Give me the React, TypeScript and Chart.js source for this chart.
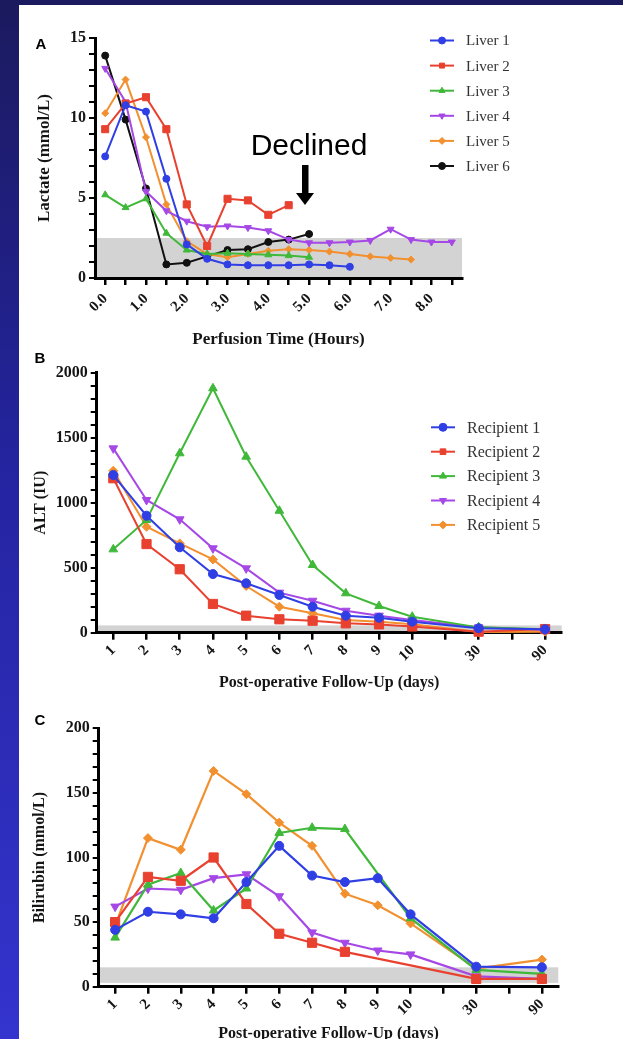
import React, { useEffect, useRef } from 'react';
import { Chart, registerables } from 'chart.js';
import { drawPoint } from 'chart.js/helpers';

Chart.register(...registerables);

// ---------- DATA ----------
const perfusionHours = ['0.0', '0.5', '1.0', '1.5', '2.0', '2.5', '3.0', '3.5', '4.0', '4.5', '5.0', '5.5', '6.0', '6.5', '7.0', '7.5', '8.0', '8.5'];
const liver1 = [7.6, 10.8, 10.4, 6.2, 2.1, 1.2, 0.85, 0.8, 0.8, 0.8, 0.85, 0.8, 0.7];
const liver2 = [9.3, 10.9, 11.3, 9.3, 4.6, 2.0, 4.95, 4.85, 3.95, 4.55];
const liver3 = [5.2, 4.4, 4.95, 2.8, 1.75, 1.5, 1.55, 1.5, 1.45, 1.4, 1.3];
const liver4 = [13.1, 11.0, 5.4, 4.2, 3.55, 3.2, 3.25, 3.15, 2.95, 2.4, 2.2, 2.2, 2.25, 2.35, 3.05, 2.4, 2.25, 2.25];
const liver5 = [10.3, 12.4, 8.8, 4.6, 2.3, 1.5, 1.3, 1.5, 1.7, 1.8, 1.75, 1.65, 1.5, 1.35, 1.25, 1.15];
const liver6 = [13.9, 9.9, 5.6, 0.85, 0.95, 1.35, 1.75, 1.8, 2.25, 2.4, 2.75];
const lactateNormal = [0, 2.5];

const followUpDays = ['1', '2', '3', '4', '5', '6', '7', '8', '9', '10', '', '30', '', '90'];
const alt1 = [1213, 900, 657, 451, 380, 290, 200, 131, 115, 85, null, 34, null, 26];
const alt2 = [1188, 682, 488, 221, 131, 103, 92, 72, 64, 48, null, 8, null, 28];
const alt3 = [641, 867, 1380, 1880, 1354, 938, 521, 303, 205, 123, null, 41, null, 26];
const alt4 = [1418, 1021, 872, 649, 495, 308, 246, 169, 131, 98, null, 41, null, 21];
const alt5 = [1246, 815, 687, 564, 359, 200, 149, 98, 85, 65, null, 5, null, 8];
const altNormal = [0, 56];

const bili1 = [44, 58, 56, 53, 81, 109, 86, 81, 84, 56, null, 15.5, null, 15];
const bili2 = [50, 85, 82, 100, 64, 41, 34, 27, null, null, null, 6, null, 6];
const bili3 = [38, 79, 88, 59, 76, 119, 123, 122, null, 53, null, 13, null, 10];
const bili4 = [62, 76, 75, 84, 87, 70, 42, 34, 28, 25, null, 8, null, 6];
const bili5 = [47, 115, 106, 167, 149, 127, 109, 72, 63, 49, null, 14, null, 21];
const biliNormal = [3, 15];

const lactateTicks = Array.from({ length: 16 }, (_, i) => i);
const altTicks = Array.from({ length: 21 }, (_, i) => i * 100);
const biliTicks = Array.from({ length: 21 }, (_, i) => i * 10);

// ---------- STYLE ----------
const BLUE = '#2f3fe4';
const RED = '#e8412f';
const GREEN = '#40b83a';
const PURPLE = '#a548e6';
const ORANGE = '#f29030';
const BLACK = '#111111';
const SERIF = "'Liberation Serif', 'Times New Roman', serif";
const SANS = "'Liberation Sans', Arial, sans-serif";
const INK = '#151515';

type Mk = { style: string; rot: number; r: number };

function ds(label: string, data: (number | null)[], color: string, mk: Mk, lw: number) {
  return {
    label,
    data,
    borderColor: color,
    backgroundColor: color,
    pointBackgroundColor: color,
    pointBorderColor: color,
    pointStyle: mk.style,
    pointRotation: mk.rot,
    pointRadius: mk.r,
    pointBorderWidth: 1,
    borderWidth: lw,
    tension: 0,
    spanGaps: true,
    clip: false as any,
  };
}

const bandPlugin = {
  id: 'band',
  beforeDraw(chart: any, _a: any, opts: any) {
    const { ctx, chartArea, scales } = chart;
    const y = scales.y;
    const t = y.getPixelForValue(opts.range[1]);
    const b = y.getPixelForValue(opts.range[0]);
    ctx.save();
    ctx.fillStyle = '#d3d3d3';
    ctx.fillRect(chartArea.left, t, chartArea.right - chartArea.left, b - t);
    ctx.restore();
  },
};

const legendPlugin = {
  id: 'customLegend',
  afterDraw(chart: any, _a: any, opts: any) {
    if (!opts || !opts.display) return;
    const ctx = chart.ctx;
    ctx.save();
    chart.data.datasets.forEach((d: any, i: number) => {
      const y = opts.y0 + i * opts.dy;
      ctx.strokeStyle = d.borderColor;
      ctx.lineWidth = 2;
      ctx.beginPath();
      ctx.moveTo(opts.x0, y);
      ctx.lineTo(opts.x1, y);
      ctx.stroke();
      ctx.fillStyle = d.pointBackgroundColor;
      ctx.strokeStyle = d.pointBorderColor;
      ctx.lineWidth = 1;
      drawPoint(ctx, { pointStyle: d.pointStyle, rotation: d.pointRotation || 0, radius: opts.r, borderWidth: 1 } as any, (opts.x0 + opts.x1) / 2, y);
      ctx.fillStyle = '#333333';
      ctx.font = opts.font;
      ctx.textBaseline = 'middle';
      ctx.textAlign = 'left';
      ctx.fillText(d.label, opts.tx, y + 1);
    });
    ctx.restore();
  },
};

const notesPlugin = {
  id: 'notes',
  afterDraw(chart: any, _a: any, opts: any) {
    const ctx = chart.ctx;
    ctx.save();
    ctx.fillStyle = '#000';
    ctx.textBaseline = 'middle';
    ctx.textAlign = 'center';
    ctx.font = `bold 15px ${SANS}`;
    ctx.fillText(opts.letter, opts.lx, opts.ly);
    if (opts.declined) {
      ctx.font = `30px ${SANS}`;
      ctx.textBaseline = 'alphabetic';
      ctx.fillText('Declined', 309, 155);
      // arrow
      ctx.fillRect(302, 165, 6.5, 29);
      ctx.beginPath();
      ctx.moveTo(296, 193);
      ctx.lineTo(314, 193);
      ctx.lineTo(305, 205);
      ctx.closePath();
      ctx.fill();
    }
    ctx.restore();
  },
};

function makeConfig(p: {
  labels: string[];
  datasets: any[];
  xLabel: (i: number) => string;
  xTitle: string;
  yTitle: string;
  yTicks: number[];
  yMajor: number;
  yMax: number;
  band: number[];
  padTop: number;
  padRight: number;
  yWidth: number;
  xHeight: number;
  titleSize: number;
  yTitlePad: number;
  xTitlePad: number;
  xTickPad: number;
  legend: any;
  notes: any;
}) {
  return {
    type: 'line',
    data: { labels: p.labels, datasets: p.datasets },
    options: {
      animation: false,
      responsive: false,
      devicePixelRatio: 1,
      events: [],
      layout: { padding: { left: 0, right: p.padRight, top: p.padTop, bottom: 0 } },
      plugins: {
        legend: { display: false },
        tooltip: { enabled: false },
        band: { range: p.band },
        customLegend: p.legend,
        notes: p.notes,
      },
      scales: {
        x: {
          type: 'category',
          offset: true,
          grid: { offset: false, drawOnChartArea: false, drawTicks: true, tickLength: 7, lineWidth: 2.5, color: '#000' },
          border: { display: true, width: 3, color: '#000' },
          ticks: {
            autoSkip: false,
            maxRotation: 45,
            minRotation: 45,
            padding: p.xTickPad,
            color: INK,
            font: { family: SERIF, size: 15, weight: 'bold' },
            callback: (_v: any, i: number) => p.xLabel(i),
          },
          title: {
            display: true,
            text: p.xTitle,
            color: INK,
            font: { family: SERIF, size: p.titleSize, weight: 'bold' },
            padding: { top: 0, bottom: p.xTitlePad },
          },
          afterFit: (s: any) => {
            s.height = p.xHeight;
          },
        },
        y: {
          type: 'linear',
          min: 0,
          max: p.yMax,
          afterBuildTicks: (s: any) => {
            s.ticks = p.yTicks.map((v) => ({ value: v }));
          },
          grid: { drawOnChartArea: false, drawTicks: true, tickLength: 6, lineWidth: 2, color: '#000' },
          border: { display: true, width: 3, color: '#000' },
          ticks: {
            autoSkip: false,
            padding: 3,
            color: INK,
            font: { family: SERIF, size: 16, weight: 'bold' },
            callback: (v: any) => (Number(v) % p.yMajor === 0 ? String(v) : ''),
          },
          title: {
            display: true,
            text: p.yTitle,
            color: INK,
            font: { family: SERIF, size: p.titleSize, weight: 'bold' },
            padding: { top: p.yTitlePad, bottom: 0 },
          },
          afterFit: (s: any) => {
            s.width = p.yWidth;
          },
        },
      },
    },
    plugins: [bandPlugin, legendPlugin, notesPlugin],
  } as any;
}

const mkA = {
  l1: { style: 'circle', rot: 0, r: 3.5 },
  l2: { style: 'rect', rot: 0, r: 5 },
  l3: { style: 'triangle', rot: 0, r: 4 },
  l4: { style: 'triangle', rot: 180, r: 4 },
  l5: { style: 'rectRot', rot: 0, r: 3.5 },
  l6: { style: 'circle', rot: 0, r: 3.5 },
};
const mkB = {
  r1: { style: 'circle', rot: 0, r: 4.5 },
  r2: { style: 'rect', rot: 0, r: 6.5 },
  r3: { style: 'triangle', rot: 0, r: 5 },
  r4: { style: 'triangle', rot: 180, r: 5 },
  r5: { style: 'rectRot', rot: 0, r: 4.5 },
};

function configA() {
  return makeConfig({
    labels: perfusionHours,
    datasets: [
      ds('Liver 1', liver1, BLUE, mkA.l1, 2),
      ds('Liver 2', liver2, RED, mkA.l2, 2),
      ds('Liver 3', liver3, GREEN, mkA.l3, 2),
      ds('Liver 4', liver4, PURPLE, mkA.l4, 2),
      ds('Liver 5', liver5, ORANGE, mkA.l5, 2),
      ds('Liver 6', liver6, BLACK, mkA.l6, 2),
    ],
    xLabel: (i) => (i % 2 === 0 ? perfusionHours[i] : ''),
    xTitle: 'Perfusion Time (Hours)',
    yTitle: 'Lactate (mmol/L)',
    yTicks: lactateTicks,
    yMajor: 5,
    yMax: 15,
    band: lactateNormal,
    padTop: 38,
    padRight: 161,
    yWidth: 95,
    xHeight: 72,
    titleSize: 17,
    yTitlePad: 34.8,
    xTitlePad: 0,
    xTickPad: 5,
    legend: { display: true, x0: 430, x1: 454, tx: 466, y0: 40.5, dy: 25.1, r: 3.5, font: `15px ${SERIF}` },
    notes: { letter: 'A', lx: 41, ly: 45, declined: true },
  });
}

function configB() {
  return makeConfig({
    labels: followUpDays,
    datasets: [
      ds('Recipient 1', alt1, BLUE, mkB.r1, 2),
      ds('Recipient 2', alt2, RED, mkB.r2, 2),
      ds('Recipient 3', alt3, GREEN, mkB.r3, 2),
      ds('Recipient 4', alt4, PURPLE, mkB.r4, 2),
      ds('Recipient 5', alt5, ORANGE, mkB.r5, 2),
    ],
    xLabel: (i) => followUpDays[i],
    xTitle: 'Post-operative Follow-Up (days)',
    yTitle: 'ALT (IU)',
    yTicks: altTicks,
    yMajor: 500,
    yMax: 2000,
    band: altNormal,
    padTop: 22.7,
    padRight: 61.3,
    yWidth: 96.7,
    xHeight: 67.3,
    titleSize: 16,
    yTitlePad: 31.4,
    xTitlePad: 7.4,
    xTickPad: 2,
    legend: { display: true, x0: 431, x1: 455, tx: 467, y0: 77.3, dy: 24.4, r: 4, font: `16px ${SERIF}` },
    notes: { letter: 'B', lx: 40, ly: 9, declined: false },
  });
}

function configC() {
  return makeConfig({
    labels: followUpDays,
    datasets: [
      ds('Recipient 1', bili1, BLUE, mkB.r1, 2.2),
      ds('Recipient 2', bili2, RED, mkB.r2, 2.2),
      ds('Recipient 3', bili3, GREEN, mkB.r3, 2.2),
      ds('Recipient 4', bili4, PURPLE, mkB.r4, 2.2),
      ds('Recipient 5', bili5, ORANGE, mkB.r5, 2.2),
    ],
    xLabel: (i) => followUpDays[i],
    xTitle: 'Post-operative Follow-Up (days)',
    yTitle: 'Bilirubin (mmol/L)',
    yTicks: biliTicks,
    yMajor: 50,
    yMax: 200,
    band: biliNormal,
    padTop: 28.3,
    padRight: 64.7,
    yWidth: 98.7,
    xHeight: 63.3,
    titleSize: 16,
    yTitlePad: 30.4,
    xTitlePad: 6.4,
    xTickPad: 2,
    legend: { display: false },
    notes: { letter: 'C', lx: 40, ly: 21, declined: false },
  });
}

function ChartCanvas({ make, top, height }: { make: () => any; top: number; height: number }) {
  const ref = useRef<HTMLCanvasElement>(null);
  useEffect(() => {
    if (!ref.current) return;
    const chart = new Chart(ref.current, make());
    return () => chart.destroy();
  }, []);
  return (
    <canvas
      ref={ref}
      width={623}
      height={height}
      style={{ position: 'absolute', left: 0, top, width: 623, height, display: 'block' }}
    />
  );
}

export default function App() {
  return (
    <div
      style={{
        position: 'fixed',
        left: 0,
        top: 0,
        width: 623,
        height: 1039,
        overflow: 'hidden',
        background: '#1b1a5e',
      }}
    >
      <div
        style={{
          position: 'absolute',
          left: 0,
          top: 0,
          width: 19,
          height: 1039,
          background: 'linear-gradient(to bottom, #1b1a5e 0%, #2424a0 45%, #3434cf 100%)',
        }}
      />
      <div style={{ position: 'absolute', left: 19, top: 5, right: 0, bottom: 0, background: '#ffffff' }} />
      <ChartCanvas make={configA} top={0} height={350} />
      <ChartCanvas make={configB} top={350} height={350} />
      <ChartCanvas make={configC} top={700} height={350} />
    </div>
  );
}
